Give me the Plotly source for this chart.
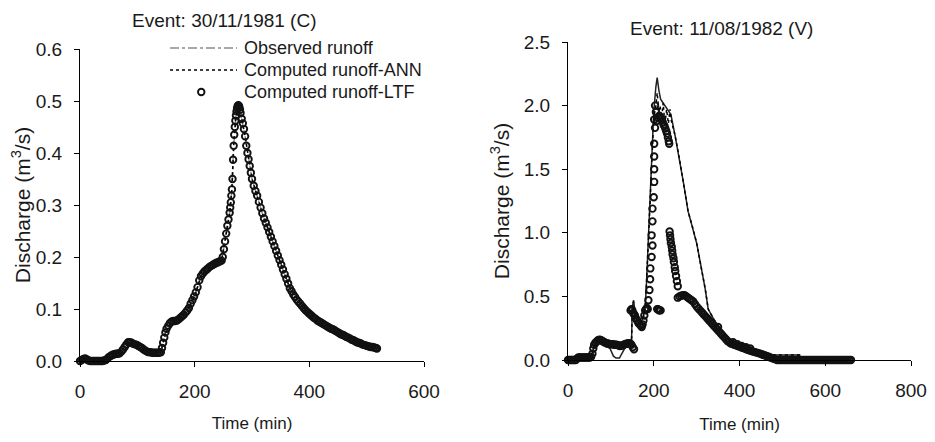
import plotly.graph_objects as go

# ---------------- DATA ----------------
# Left event: 30/11/1981 (C)  -- (time min, discharge m3/s)
left_ltf = [(0,0.000),(3,0.002),(6,0.004),(9,0.005),(12,0.003),(15,0.001),(18,0.000),(21,0.000),(24,0.000),
 (27,0.000),(30,0.000),(33,0.000),(36,0.000),(39,0.000),(42,0.001),(45,0.002),(48,0.005),(51,0.008),(54,0.010),
 (57,0.012),(60,0.013),(63,0.014),(66,0.014),(69,0.015),(72,0.018),(75,0.022),(78,0.027),(81,0.032),(84,0.036),
 (87,0.036),(90,0.035),(93,0.033),(96,0.032),(99,0.031),(102,0.029),(105,0.027),(108,0.025),(111,0.022),(114,0.020),
 (117,0.018),(120,0.017),(123,0.017),(126,0.016),(129,0.016),(132,0.016),(135,0.016),(138,0.016),(141,0.017),
 (143,0.025),(145,0.035),(147,0.045),(149,0.055),(151,0.062),(154,0.068),(157,0.073),(160,0.076),(163,0.077),
 (166,0.077),(169,0.078),(172,0.080),(175,0.083),(178,0.086),(181,0.089),(184,0.093),(187,0.097),(190,0.102),
 (193,0.110),(196,0.117),(199,0.124),(202,0.132),(205,0.142),(208,0.155),(211,0.163),(214,0.168),(217,0.172),
 (220,0.175),(223,0.178),(226,0.181),(229,0.183),(232,0.185),(235,0.187),(238,0.189),(241,0.190),(244,0.192),
 (247,0.193),(249,0.200),(251,0.215),(253,0.230),(255,0.245),(257,0.260),(259,0.272),(261,0.285),(262,0.295),
 (263,0.305),(264,0.318),(265,0.330),(266,0.350),(267,0.387),(268,0.414),(269,0.435),(270,0.450),(271,0.462),
 (272,0.472),(273,0.480),(274,0.486),(275,0.490),(276,0.492),(277,0.491),(278,0.488),(279,0.483),(280,0.477),
 (282,0.466),(284,0.457),(286,0.446),(288,0.432),(290,0.414),(292,0.400),(294,0.388),(296,0.375),(298,0.362),
 (300,0.350),(303,0.337),(306,0.327),(309,0.318),(312,0.306),(315,0.295),(318,0.284),(321,0.274),(324,0.266),
 (327,0.257),(330,0.248),(333,0.239),(336,0.230),(339,0.221),(342,0.212),(345,0.203),(348,0.194),(351,0.185),
 (354,0.176),(357,0.167),(360,0.158),(363,0.149),(366,0.140),(369,0.134),(372,0.128),(375,0.123),(378,0.118),
 (381,0.114),(384,0.110),(387,0.106),(390,0.102),(393,0.098),(396,0.095),(399,0.092),(402,0.089),(405,0.086),
 (408,0.083),(411,0.081),(414,0.078),(417,0.076),(420,0.074),(423,0.072),(426,0.070),(429,0.068),(432,0.066),
 (435,0.064),(438,0.062),(441,0.061),(444,0.059),(447,0.057),(450,0.055),(453,0.053),(456,0.051),(459,0.050),
 (462,0.048),(465,0.046),(468,0.045),(471,0.043),(474,0.041),(477,0.040),(480,0.038),(483,0.036),(486,0.035),
 (489,0.034),(492,0.032),(495,0.031),(498,0.030),(501,0.029),(504,0.028),(507,0.027),(510,0.027),(513,0.026),
 (516,0.025),(518,0.024)]
# observed and ANN curves coincide with the LTF points in this event
left_obs = [(0,0.0),(10,0.005),(18,0.0),(45,0.002),(60,0.013),(70,0.015),(84,0.036),(100,0.030),(120,0.017),
 (141,0.017),(151,0.062),(160,0.076),(172,0.080),(190,0.102),(202,0.132),(211,0.163),(226,0.181),(247,0.193),
 (255,0.245),(261,0.285),(265,0.330),(268,0.414),(272,0.472),(276,0.492),(280,0.477),(288,0.432),(300,0.350),
 (318,0.284),(336,0.230),(354,0.176),(366,0.140),(384,0.110),(402,0.089),(420,0.074),(441,0.061),(462,0.048),
 (483,0.036),(501,0.029),(518,0.024)]
left_ann = [(0,0.0),(10,0.005),(18,0.0),(45,0.002),(60,0.013),(70,0.015),(84,0.036),(100,0.030),(120,0.017),
 (141,0.017),(151,0.062),(160,0.076),(172,0.080),(190,0.102),(202,0.132),(211,0.163),(226,0.181),(247,0.193),
 (255,0.245),(261,0.285),(265,0.330),(268,0.414),(272,0.472),(276,0.490),(280,0.477),(288,0.432),(300,0.350),
 (318,0.284),(336,0.230),(354,0.176),(366,0.140),(384,0.110),(402,0.089),(420,0.074),(441,0.061),(462,0.048),
 (483,0.036),(501,0.029),(518,0.024)]

# Right event: 11/08/1982 (V)
right_ltf = [(0,0),(3,0),(6,0),(9,0),(12,0),(15,0),(18,0),(21,0.01),(24,0.02),(27,0.02),(30,0.02),(33,0.02),
 (36,0.02),(39,0.02),(42,0.02),(45,0.02),(48,0.02),(51,0.02),(54,0.025),(57,0.05),(59,0.09),(61,0.12),(64,0.135),
 (67,0.145),(70,0.155),(73,0.16),(76,0.158),(79,0.152),(82,0.145),(85,0.14),(88,0.135),(91,0.13),(94,0.128),
 (97,0.126),(100,0.125),(103,0.124),(106,0.122),(109,0.12),(112,0.12),(115,0.118),(118,0.115),(121,0.11),
 (124,0.112),(127,0.115),(130,0.12),(133,0.125),(136,0.128),(139,0.13),(142,0.132),(145,0.13),(148,0.12),
 (151,0.10),(154,0.085),
 (146,0.39),(148,0.40),(150,0.39),(152,0.37),(154,0.36),(156,0.35),(158,0.33),(161,0.31),(164,0.29),(167,0.28),
 (170,0.27),(172,0.26),(174,0.28),(176,0.31),(178,0.35),(180,0.39),(182,0.40),(184,0.41),(186,0.40),
 (187.5,0.47),(190,0.55),(191.5,0.635),(192,0.72),(195,0.81),(197,0.90),(195,0.98),(197,1.09),(197,1.19),
 (200,1.28),(201,1.40),(201,1.50),(201,1.60),(201,1.70),(203,1.825),(201,1.89),(205,1.95),(203,2.00),
 (208,1.88),(211,1.90),(213,1.92),(215,1.91),(217,1.90),(219,1.89),(221,1.87),(223,1.85),(225,1.84),(227,1.82),
 (229,1.80),(231,1.78),(233,1.75),(235,1.72),(236,1.70),
 (208,0.40),(210,0.40),(212,0.39),(214,0.39),(216,0.39),
 (237,1.01),(238,0.98),(239,0.95),(240,0.92),(242,0.89),(243,0.86),(244,0.83),(246,0.80),(247,0.77),(249,0.73),
 (250,0.70),(252,0.66),(254,0.62),(256,0.58),
 (256,0.49),(260,0.50),(264,0.505),(268,0.51),(272,0.51),(276,0.50),(280,0.49),(284,0.48),(288,0.47),(292,0.46),
 (296,0.44),(300,0.42),(304,0.405),(308,0.39),(312,0.375),(316,0.36),(320,0.345),(324,0.33),(328,0.315),(332,0.30),
 (336,0.285),(340,0.27),(344,0.255),(348,0.24),(352,0.225),(356,0.21),(360,0.195),(364,0.18),(368,0.165),(372,0.15),
 (376,0.14),(380,0.13),(384,0.125),(388,0.12),(392,0.115),(396,0.11),(400,0.105),(404,0.10),(408,0.095),(412,0.09),
 (416,0.085),(420,0.08),(424,0.075),(428,0.07),(432,0.066),(436,0.062),(440,0.058),(444,0.054),(448,0.05),
 (452,0.045),(456,0.04),(460,0.035),(464,0.03),(468,0.025),(472,0.02),(476,0.015),(480,0.01),(484,0.005),
 (350,0.26),(385,0.14),(395,0.125),(405,0.11),(415,0.10),(425,0.09),
 (488,0),(492,0),(496,0),(500,0),(504,0),(508,0),(512,0),(516,0),(520,0),(524,0),(528,0),(532,0),(536,0),(540,0),
 (544,0),(548,0),(552,0),(556,0),(560,0),(564,0),(568,0),(572,0),(576,0),(580,0),(584,0),(588,0),(592,0),(596,0),
 (600,0),(604,0),(608,0),(612,0),(616,0),(620,0),(624,0),(628,0),(632,0),(636,0),(640,0),(644,0),(648,0),(652,0),
 (656,0),(660,0)]
right_obs = [(0,0),(20,0),(24,0.02),(56,0.02),(60,0.10),(64,0.13),(70,0.15),(76,0.15),(82,0.13),(90,0.11),
 (98,0.09),(106,0.03),(112,0.015),(120,0.015),(126,0.05),(132,0.09),(138,0.11),(144,0.12),(148,0.12),(150,0.42),
 (153,0.47),(156,0.38),(160,0.32),(165,0.30),(170,0.30),(175,0.33),(178,0.38),(180,0.42),(183,0.60),(186,0.85),
 (190,1.20),(195,1.62),(200,1.95),(205,2.15),(208,2.22),(212,2.12),(216,2.05),(220,2.03),(225,2.00),(230,1.98),
 (236,1.95),(240,1.93),(250,1.76),(260,1.58),(270,1.38),(280,1.17),(290,1.05),(300,0.92),(310,0.74),(320,0.56),
 (327,0.40),(333,0.36),(340,0.32),(350,0.27),(360,0.22),(370,0.17),(380,0.13),(390,0.115),(400,0.10),(420,0.075),
 (440,0.05),(460,0.03),(476,0.01),(478,0.04),(540,0.04),(543,0.0),(660,0.0)]
right_ann = [(0,0),(20,0),(24,0.02),(56,0.02),(60,0.10),(64,0.13),(70,0.15),(76,0.15),(82,0.13),(95,0.12),
 (110,0.11),(130,0.12),(144,0.12),(148,0.12),(150,0.40),(153,0.46),(156,0.38),(160,0.32),(165,0.30),(170,0.30),
 (175,0.33),(178,0.38),(180,0.42),(183,0.60),(186,0.85),(190,1.20),(195,1.62),(200,1.90),(205,2.00),(208,2.10),
 (212,1.95),(215,2.00),(218,1.88),(222,2.02),(226,1.85),(230,1.97),(234,1.86),(238,1.97),(241,1.88),(250,1.76),
 (260,1.58),(270,1.38),(280,1.17),(290,1.05),(300,0.92),(310,0.74),(320,0.56),(327,0.40),(333,0.36),(340,0.32),
 (350,0.27),(360,0.22),(370,0.17),(380,0.13),(390,0.115),(400,0.10),(420,0.075),(440,0.05),(460,0.03),(476,0.01),
 (478,0.04),(540,0.04),(543,0.0),(660,0.0)]

left_title = "Event: 30/11/1981 (C)"
right_title = "Event: 11/08/1982 (V)"
x_title = "Time (min)"
y_title = "Discharge (m<sup>3</sup>/s)"
series_names = ["Observed runoff", "Computed runoff-ANN", "Computed runoff-LTF"]

def xs(p):
    return [a for a, b in p]

def ys(p):
    return [b for a, b in p]

FONT = "Liberation Sans, Arial, sans-serif"
TXT = "#1a1a1a"
# the page body keeps its default 8px margin, so the figure is drawn 8px in from the window edge
OFF = 8
W, H = 935 - OFF, 442 - OFF

def px(x):
    return (x - OFF) / W

def py(y):
    return 1 - (y - OFF) / H

OBS_LEFT = dict(color="#8c8c8c", width=1.5, dash="dashdot")
ANN_LEFT = dict(color="black", width=1.6, dash="dot")
MARK = dict(symbol="circle-open", size=6.5, color="#111", line=dict(width=1.9, color="#111"))

fig = go.Figure()
# left chart
fig.add_trace(go.Scatter(x=xs(left_obs), y=ys(left_obs), mode="lines", name=series_names[0],
                         line=OBS_LEFT, showlegend=False, xaxis="x", yaxis="y"))
fig.add_trace(go.Scatter(x=xs(left_ann), y=ys(left_ann), mode="lines", name=series_names[1],
                         line=ANN_LEFT, showlegend=False, xaxis="x", yaxis="y"))
fig.add_trace(go.Scatter(x=xs(left_ltf), y=ys(left_ltf), mode="markers", name=series_names[2],
                         marker=MARK, showlegend=False, cliponaxis=False, xaxis="x", yaxis="y"))
# right chart
fig.add_trace(go.Scatter(x=xs(right_obs), y=ys(right_obs), mode="lines", showlegend=False,
                         line=dict(color="#222", width=1.5), xaxis="x2", yaxis="y2"))
fig.add_trace(go.Scatter(x=xs(right_ann), y=ys(right_ann), mode="lines", showlegend=False,
                         line=dict(color="black", width=1.5, dash="dot"), xaxis="x2", yaxis="y2"))
fig.add_trace(go.Scatter(x=xs(right_ltf), y=ys(right_ltf), mode="markers", showlegend=False,
                         marker=MARK, cliponaxis=False, xaxis="x2", yaxis="y2"))

axis_common = dict(showline=True, linecolor="black", linewidth=1, ticks="outside", ticklen=5,
                   tickcolor="black", tickwidth=1, showgrid=False, zeroline=False, automargin=False,
                   tickfont=dict(family=FONT, size=19, color=TXT))

# legend drawn as key samples + text (matches the reference's long key lines)
legend_rows_y = [48, 70, 92]
shapes = [
    dict(type="line", xref="paper", yref="paper", x0=px(170), x1=px(237), y0=py(48), y1=py(48),
         line=OBS_LEFT),
    dict(type="line", xref="paper", yref="paper", x0=px(170), x1=px(237), y0=py(70), y1=py(70),
         line=ANN_LEFT),
    dict(type="circle", xref="paper", yref="paper", x0=px(198), x1=px(204.5), y0=py(95.2), y1=py(88.7),
         line=dict(color="#111", width=1.9)),
]
annotations = [
    dict(text=left_title, x=px(224), y=1.0, xref="paper", yref="paper", showarrow=False,
         xanchor="center", yanchor="top", font=dict(family=FONT, size=19, color=TXT)),
    dict(text=right_title, x=px(721), y=py(28), xref="paper", yref="paper", showarrow=False,
         xanchor="center", yanchor="middle", font=dict(family=FONT, size=19, color=TXT)),
]
for name, yy in zip(series_names, legend_rows_y):
    annotations.append(dict(text=name, x=px(242), y=py(yy), xref="paper", yref="paper", showarrow=False,
                            xanchor="left", yanchor="middle", font=dict(family=FONT, size=18, color=TXT)))

fig.update_layout(
    width=W, height=H,
    margin=dict(l=0, r=0, t=0, b=0),
    paper_bgcolor="white", plot_bgcolor="white",
    font=dict(family=FONT, color=TXT),
    showlegend=False,
    xaxis=dict(domain=[px(80), px(424)], range=[0, 600], dtick=200, anchor="y",
               title=dict(text=x_title, font=dict(size=17, family=FONT, color=TXT), standoff=16),
               ticklabelstandoff=8, **axis_common),
    yaxis=dict(domain=[py(361), py(49)], range=[0, 0.6], dtick=0.1, tickformat=".1f", anchor="x",
               title=dict(text=y_title, font=dict(size=21, family=FONT, color=TXT), standoff=10),
               ticklabelstandoff=8, **axis_common),
    xaxis2=dict(domain=[px(568), px(911)], range=[0, 800], dtick=200, anchor="y2",
                title=dict(text=x_title, font=dict(size=17, family=FONT, color=TXT), standoff=18),
                ticklabelstandoff=8, **axis_common),
    yaxis2=dict(domain=[py(360), py(42)], range=[0, 2.5], dtick=0.5, tickformat=".1f", anchor="x2",
                title=dict(text=y_title, font=dict(size=21, family=FONT, color=TXT), standoff=8),
                ticklabelstandoff=8, **axis_common),
    shapes=shapes,
    annotations=annotations,
)

fig.write_html("out.html")
